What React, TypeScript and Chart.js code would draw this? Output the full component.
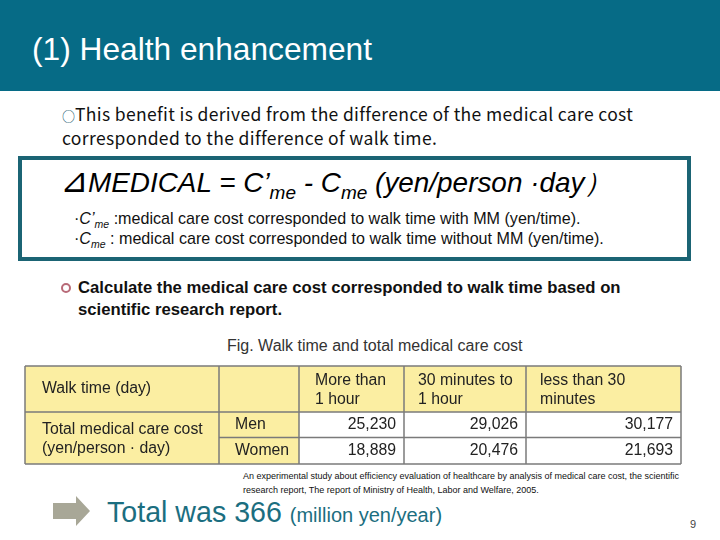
import React, { useEffect, useRef } from "react";
import { Chart, registerables } from "chart.js";

Chart.register(...registerables);

// ---- data ----
const walkTimeColumns: string[][] = [
  ["More than", "1 hour"],
  ["30 minutes to", "1 hour"],
  ["less than 30", "minutes"],
];
const sexCategories = ["Men", "Women"];
const menCost = [25230, 29026, 30177];
const womenCost = [18889, 20476, 21693];
const rowHeaderLabel = "Walk time (day)";
const valueLabel = ["Total medical care cost", "(yen/person \u00B7 day)"];

// ---- layout (table grid, in canvas px) ----
const COL_EDGES = [1, 195, 275, 380, 502, 657];
const ROW_EDGES = [1, 47, 72.5, 99];
const YELLOW = "#fbeea2";
const BORDER = "#7a7a7a";
const FONT = '"Liberation Sans", Arial, sans-serif';

const tablePlugin = {
  id: "tablePlugin",
  afterDraw(chart: any) {
    const ctx = chart.ctx as CanvasRenderingContext2D;
    const gx = chart.scales.gx;
    const gy = chart.scales.gy;
    const X = COL_EDGES.map((v) => gx.getPixelForValue(v));
    const Y = ROW_EDGES.map((v) => gy.getPixelForValue(v));
    const labels = chart.data.labels as string[][];
    const sets = chart.data.datasets;
    ctx.save();
    ctx.fillStyle = "#ffffff";
    ctx.fillRect(X[0], Y[0], X[5] - X[0], Y[3] - Y[0]);
    ctx.fillStyle = YELLOW;
    ctx.fillRect(X[0], Y[0], X[5] - X[0], Y[1] - Y[0]);
    ctx.fillRect(X[0], Y[1], X[2] - X[0], Y[3] - Y[1]);
    ctx.strokeStyle = BORDER;
    ctx.lineWidth = 1.5;
    const line = (x1: number, y1: number, x2: number, y2: number) => {
      ctx.beginPath();
      ctx.moveTo(x1, y1);
      ctx.lineTo(x2, y2);
      ctx.stroke();
    };
    line(X[0], Y[0], X[5], Y[0]);
    line(X[0], Y[1], X[5], Y[1]);
    line(X[1], Y[2], X[5], Y[2]);
    line(X[0], Y[3], X[5], Y[3]);
    for (let i = 0; i < 6; i++) line(X[i], Y[0], X[i], Y[3]);
    ctx.fillStyle = "#222";
    ctx.font = `15.8px ${FONT}`;
    ctx.textBaseline = "middle";
    ctx.textAlign = "left";
    ctx.fillText(rowHeaderLabel, X[0] + 17, (Y[0] + Y[1]) / 2);
    const mid = (Y[1] + Y[3]) / 2;
    ctx.fillText(valueLabel[0], X[0] + 17, mid - 8);
    ctx.fillText(valueLabel[1], X[0] + 17, mid + 11);
    labels.forEach((lab, i) => {
      const x = X[i + 2] + (i === 0 ? 16 : 14);
      ctx.fillText(lab[0], x, (Y[0] + Y[1]) / 2 - 8.5);
      ctx.fillText(lab[1], x, (Y[0] + Y[1]) / 2 + 10.5);
    });
    sets.forEach((ds: any, r: number) => {
      const cy = (Y[r + 1] + Y[r + 2]) / 2;
      ctx.textAlign = "left";
      ctx.fillText(ds.label, X[1] + 16, cy);
      ctx.textAlign = "right";
      (ds.data as number[]).forEach((v, i) => {
        ctx.fillText(v.toLocaleString("en-US"), X[i + 3] - 8, cy);
      });
    });
    ctx.restore();
  },
};

function TableChart() {
  const ref = useRef<HTMLCanvasElement>(null);
  useEffect(() => {
    if (!ref.current) return;
    const chart = new Chart(ref.current, {
      type: "bar",
      data: {
        labels: walkTimeColumns as any,
        datasets: [
          { label: sexCategories[0], data: menCost, backgroundColor: "rgba(0,0,0,0)", borderWidth: 0 },
          { label: sexCategories[1], data: womenCost, backgroundColor: "rgba(0,0,0,0)", borderWidth: 0 },
        ],
      },
      options: {
        animation: false,
        responsive: false,
        maintainAspectRatio: false,
        events: [],
        layout: { padding: 0 },
        plugins: { legend: { display: false }, tooltip: { enabled: false } },
        scales: {
          x: { display: false, position: "bottom" },
          y: { display: false, position: "left" },
          gx: { type: "linear", axis: "x", position: "bottom", display: false, offset: false, min: 0, max: 660, grid: { offset: false } },
          gy: { type: "linear", axis: "y", position: "left", display: false, offset: false, min: 0, max: 101, reverse: true },
        },
      } as any,
      plugins: [tablePlugin],
    });
    return () => chart.destroy();
  }, []);
  return <canvas ref={ref} width={660} height={101} style={{ position: "absolute", left: 24, top: 365, width: 660, height: 101 }} />;
}

const abs = (left: number, top: number, extra: React.CSSProperties = {}): React.CSSProperties => ({
  position: "absolute",
  left,
  top,
  whiteSpace: "nowrap",
  ...extra,
});

export default function App() {
  const jp = '"Noto Sans CJK JP", sans-serif';
  return (
    <div style={{ position: "fixed", left: 0, top: 0, width: 720, height: 540, background: "#fff", overflow: "hidden", fontFamily: FONT }}>
      <div style={{ position: "absolute", left: 0, top: 0, width: 720, height: 91, background: "#066b86" }} />
      <div style={abs(32, 30, { color: "#fff", fontSize: 31.7, lineHeight: "38px" })}>(1) Health enhancement</div>

      <div style={abs(62, 103, { fontFamily: jp, fontSize: 17.5, letterSpacing: 0.35, lineHeight: "22px", color: "#111" })}>
        <span style={{ fontSize: 13, color: "#0a4f66", letterSpacing: 0 }}>{"\u25CB"}</span>This benefit is derived from the difference of the medical care cost
      </div>
      <div style={abs(62, 127, { fontFamily: jp, fontSize: 17.5, letterSpacing: 0.35, lineHeight: "22px", color: "#111" })}>
        corresponded to the difference of walk time.
      </div>

      <div style={{ position: "absolute", left: 18, top: 156, width: 665, height: 97, border: "4px solid #1b6474", background: "#fff" }} />
      <div style={abs(60, 164, { fontSize: 27.9, lineHeight: "32px", fontStyle: "italic", color: "#000" })}>
        <span style={{ fontSize: 34, fontStyle: "normal", fontWeight: 300 }}>{"\u22BF"}</span>
        {"MEDICAL = C\u2019"}
        <sub style={{ fontSize: 19 }}>me</sub>
        {" - C"}
        <sub style={{ fontSize: 19 }}>me</sub>
        {" (yen/person \u00B7day\uFF09"}
      </div>
      <div style={abs(74, 209, { fontSize: 16.1, lineHeight: "18px", color: "#111" })}>
        {"\u00B7"}
        <i>C&rsquo;</i>
        <sub style={{ fontSize: 10.5, fontStyle: "italic" }}>me</sub>
        {" :medical care cost corresponded to walk time with MM (yen/time)."}
      </div>
      <div style={abs(74, 229, { fontSize: 16.1, lineHeight: "18px", color: "#111" })}>
        {"\u00B7"}
        <i>C</i>
        <sub style={{ fontSize: 10.5, fontStyle: "italic" }}>me</sub>
        {" : medical care cost corresponded to walk time without MM (yen/time)."}
      </div>

      <div style={{ position: "absolute", left: 61, top: 283, width: 6, height: 6, borderRadius: "50%", border: "2px solid #b86a78" }} />
      <div style={abs(78, 277, { fontSize: 16.7, lineHeight: "21px", fontWeight: "bold", color: "#111" })}>
        Calculate the medical care cost corresponded to walk time based on
      </div>
      <div style={abs(78, 299, { fontSize: 16.7, lineHeight: "21px", fontWeight: "bold", color: "#111" })}>
        scientific research report.
      </div>

      <div style={abs(227, 336, { fontSize: 16, lineHeight: "19px", color: "#333" })}>Fig. Walk time and total medical care cost</div>

      <TableChart />

      <div style={abs(243, 470, { fontSize: 9, lineHeight: "12px", color: "#111" })}>
        An experimental study about efficiency evaluation of healthcare by analysis of medical care cost, the scientific
      </div>
      <div style={abs(243, 484, { fontSize: 9, lineHeight: "12px", color: "#111" })}>
        research report, The report of Ministry of Health, Labor and Welfare, 2005.
      </div>

      <svg style={{ position: "absolute", left: 50, top: 494 }} width={44} height={34}>
        <polygon points="3,9 26,9 26,2 40,17 26,32 26,25 3,25" fill="#a8a797" />
      </svg>
      <div style={abs(107, 495, { fontSize: 28.6, lineHeight: "34px", color: "#1b6e80" })}>
        Total was 366 <span style={{ fontSize: 20 }}>(million yen/year)</span>
      </div>
      <div style={abs(690, 517, { fontSize: 11, lineHeight: "14px", color: "#444" })}>9</div>
    </div>
  );
}
